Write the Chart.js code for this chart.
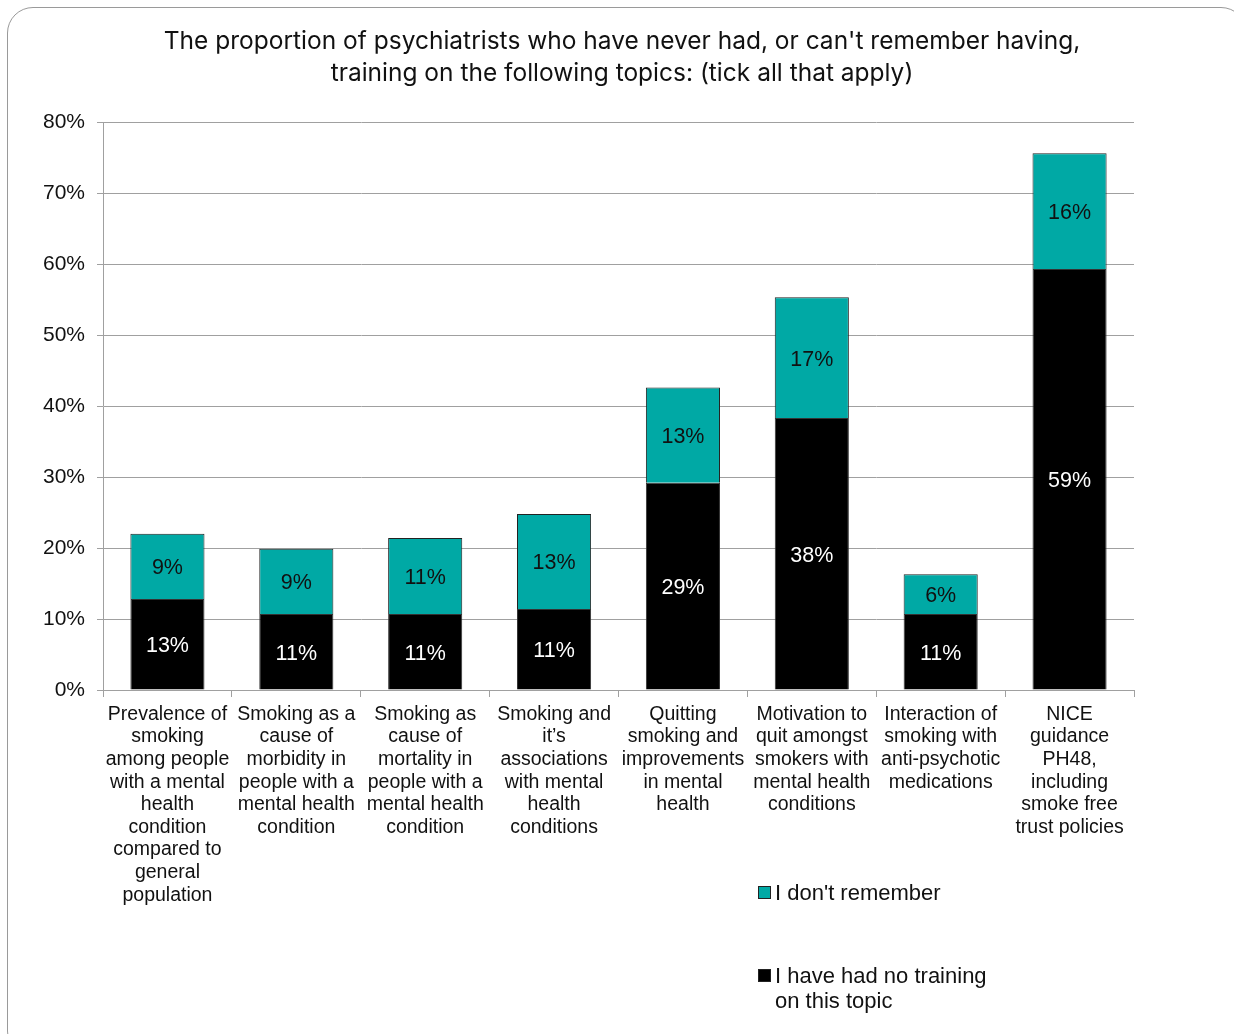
<!DOCTYPE html>
<html>
<head>
<meta charset="utf-8">
<script src="https://cdn.jsdelivr.net/npm/chart.js@4.4.1/dist/chart.umd.min.js"></script>
<style>
  html, body { margin: 0; padding: 0; background: #fff; }
  #wrap { position: relative; width: 1234px; height: 1034px; overflow: hidden; }
  #frame {
    position: absolute; left: 7px; top: 7px; width: 1240px; height: 1050px;
    border: 1.5px solid #9a9a9a; border-radius: 26px; box-sizing: border-box;
  }
  canvas { position: absolute; left: 0; top: 0; }
  #title {
    position: absolute; left: 0; top: 24px; width: 1244px; text-align: center;
    font-family: Inter, "Noto Sans", sans-serif; font-size: 24.5px; line-height: 32px; color: #111;
  }
  .legend { position: absolute; font-family: "Liberation Sans", Arial, sans-serif; font-size: 22px; color: #111; line-height: 25px; }
  .legend .box { position: absolute; left: 0; top: 6px; width: 11px; height: 11px; border: 1px solid #222; }
  .legend .txt { margin-left: 17px; }
</style>
</head>
<body>
<div id="wrap">
  <div id="frame"></div>
  <canvas id="chart" width="1234" height="1034"></canvas>
  <div id="title">The proportion of psychiatrists who have never had, or can't remember having,<br>training on the following topics: (tick all that apply)</div>
  <div class="legend" style="left:758px; top:880px;"><span class="box" style="background:#00A9A5"></span><div class="txt">I don't remember</div></div>
  <div class="legend" style="left:758px; top:963px;"><span class="box" style="background:#000"></span><div class="txt">I have had no training<br>on this topic</div></div>
</div>
<script>
// topics, one multi-line label per bar
const topics = [
  ["Prevalence of", "smoking", "among people", "with a mental", "health", "condition", "compared to", "general", "population"],
  ["Smoking as a", "cause of", "morbidity in", "people with a", "mental health", "condition"],
  ["Smoking as", "cause of", "mortality in", "people with a", "mental health", "condition"],
  ["Smoking and", "it\u2019s", "associations", "with mental", "health", "conditions"],
  ["Quitting", "smoking and", "improvements", "in mental", "health"],
  ["Motivation to", "quit amongst", "smokers with", "mental health", "conditions"],
  ["Interaction of", "smoking with", "anti-psychotic", "medications"],
  ["NICE", "guidance", "PH48,", "including", "smoke free", "trust policies"]
];

// percentages of respondents
const noTraining   = [12.8, 10.7, 10.7, 11.4, 29.2, 38.3, 10.7, 59.3];
const dontRemember = [9.2, 9.2, 10.7, 13.4, 13.4, 17.0, 5.6, 16.3];

const TEAL = "#00A9A5";
const GRID = "#a0a0a0";

// writes the rounded value in the middle of each segment
const segmentLabels = {
  id: "segmentLabels",
  afterDatasetsDraw(chart) {
    const ctx = chart.ctx;
    ctx.save();
    ctx.font = "21.5px 'Liberation Sans', Arial, sans-serif";
    ctx.textAlign = "center";
    ctx.textBaseline = "middle";
    chart.data.datasets.forEach((ds, i) => {
      const meta = chart.getDatasetMeta(i);
      ctx.fillStyle = i === 0 ? "#fff" : "#111";
      meta.data.forEach((bar, j) => {
        const p = bar.getProps(["x", "y", "base"], true);
        ctx.fillText(Math.round(ds.data[j]) + "%", p.x, (p.y + p.base) / 2 + 2);
      });
    });
    ctx.restore();
  }
};

new Chart(document.getElementById("chart"), {
  type: "bar",
  data: {
    labels: topics,
    datasets: [
      {
        label: "I have had no training on this topic",
        data: noTraining,
        backgroundColor: "#000",
        borderColor: "#333",
        borderWidth: 1
      },
      {
        label: "I don't remember",
        data: dontRemember,
        backgroundColor: TEAL,
        borderColor: "#222",
        borderWidth: 1
      }
    ]
  },
  options: {
    responsive: false,
    animation: false,
    layout: { padding: { left: 0, right: 100, top: 122, bottom: 0 } },
    datasets: { bar: { barPercentage: 0.575, categoryPercentage: 1 } },
    plugins: {
      legend: { display: false },
      tooltip: { enabled: false },
      title: { display: false }
    },
    scales: {
      x: {
        stacked: true,
        afterFit: s => { s.height = 344; },
        grid: { offset: true, drawOnChartArea: false, tickLength: 7, color: GRID },
        border: { color: GRID },
        ticks: {
          color: "#111",
          maxRotation: 0,
          autoSkip: false,
          padding: 6,
          font: { family: "'Liberation Sans', Arial, sans-serif", size: 19.5, lineHeight: 1.16 }
        }
      },
      y: {
        stacked: true,
        min: 0,
        max: 80,
        afterFit: s => { s.width = 103; },
        grid: { color: GRID, tickLength: 6 },
        border: { color: GRID },
        ticks: {
          stepSize: 10,
          color: "#111",
          padding: 12,
          font: { family: "'Liberation Sans', Arial, sans-serif", size: 21 },
          callback: v => v + "%"
        }
      }
    }
  },
  plugins: [segmentLabels]
});
</script>
</body>
</html>
